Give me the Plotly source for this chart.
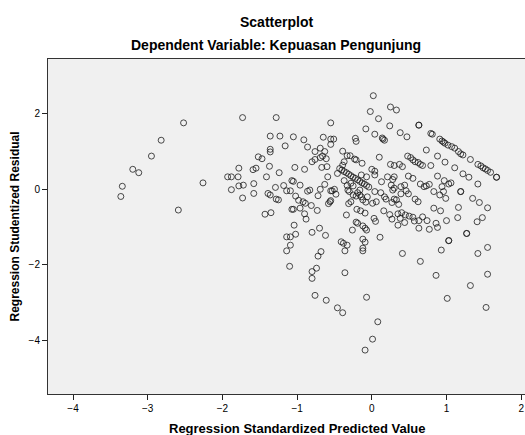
import plotly.graph_objects as go

# Regression Standardized Predicted Value (x) and Studentized Residual (y)
pred = [
 -3.36,-3.34,-3.20,-3.12,-2.95,-2.82,-2.52,-2.59,-2.26,
 -1.93,-1.88,-1.79,-1.88,-1.78,-1.72,-1.73,-1.73,-1.78,-1.59,-1.55,-1.58,-1.58,-1.52,-1.47,
 -1.43,-1.35,-1.41,-1.39,-1.36,-1.37,-1.36,-1.36,-1.36,-1.28,-1.23,-1.05,-1.16,-1.24,-1.29,
 -1.18,-1.14,-1.09,-1.07,-1.05,-1.28,-1.25,-1.03,-1.07,-1.05,-1.04,-1.02,-1.14,-1.09,-1.09,
 -1.14,-1.10,-1.02,-0.98,-0.92,-0.89,-0.81,-0.96,-0.96,-0.90,-0.88,-0.91,-0.86,-0.90,-0.86,
 -0.83,-0.80,-0.76,-0.76,-0.80,-0.70,-0.62,-0.68,-0.72,-0.74,-0.80,-0.80,-0.76,-0.61,-0.46,
 -0.39,-0.36,-0.07,0.08,0.01,-0.09,-0.73,-0.72,-0.69,-0.63,-0.59,-0.55,-0.53,-0.48,-0.50,
 -0.56,-0.58,-0.55,-0.65,-0.55,-0.55,-0.51,-0.55,-0.69,-0.63,-0.66,-0.69,-0.61,-0.60,-0.67,
 0.02,-0.02,0.09,0.25,0.33,0.24,-0.08,0.04,0.14,0.17,0.15,-0.22,-0.21,-0.39,-0.33,-0.29,
 -0.23,-0.21,-0.13,-0.37,-0.39,0.10,0.00,0.04,
 -0.43,-0.40,-0.37,-0.34,-0.31,-0.28,-0.25,-0.22,-0.19,-0.16,-0.13,-0.10,-0.07,-0.04,
 -0.37,-0.33,-0.46,-0.28,-0.25,-0.32,-0.30,-0.25,-0.21,-0.19,-0.16,-0.14,-0.12,-0.08,-0.28,
 -0.31,-0.34,-0.20,-0.15,-0.09,-0.21,-0.19,-0.12,-0.09,-0.07,-0.26,0.03,0.05,-0.41,-0.38,
 -0.33,-0.36,-0.12,-0.09,-0.12,-0.12,0.11,0.41,0.65,0.16,0.24,0.27,0.35,0.38,0.35,0.06,
 0.01,0.12,0.17,0.19,0.28,0.27,0.33,0.36,0.39,0.39,0.04,-0.14,-0.07,0.04,0.13,0.21,0.30,
 0.26,0.28,0.25,0.30,0.37,0.41,0.38,0.47,0.63,0.63,0.79,0.81,
 0.91,0.94,0.96,0.98,1.02,1.07,1.11,1.16,1.19,1.22,1.32,1.42,1.46,1.49,1.52,1.55,1.59,
 1.67,1.67,0.73,0.88,0.98,1.11,1.22,1.30,1.42,0.48,0.52,0.55,0.58,0.62,0.65,0.68,0.79,
 0.49,0.55,0.88,0.97,1.03,1.06,0.65,0.70,0.77,0.44,0.46,0.49,0.30,0.83,0.91,0.96,0.99,
 1.19,1.19,0.58,0.62,0.30,1.35,1.44,1.55,0.83,0.92,1.16,1.15,0.40,0.45,0.50,0.55,0.57,
 0.63,0.68,0.74,0.86,0.88,1.00,0.63,0.77,1.48,1.41,1.27,1.27,1.03,1.03,0.93,1.55,1.42,
 0.86,1.01,1.55,1.32,1.53,0.44,-0.06,-0.16,0.73,0.94,
]
resid = [
 -0.19,0.08,0.53,0.44,0.88,1.30,1.76,-0.55,0.17,
 0.33,0.33,0.33,-0.01,0.09,0.11,-0.23,1.90,0.56,0.52,0.56,0.15,-0.11,0.86,0.81,
 -0.66,-0.62,0.33,-0.11,-0.15,0.61,1.41,1.06,0.99,1.90,1.41,1.39,1.15,0.44,0.05,
 0.10,-0.04,-0.04,0.23,0.21,-0.26,-0.28,0.58,-0.53,-0.53,-0.95,-1.19,-1.26,-1.26,-1.48,
 -1.63,-2.04,-0.18,-0.29,-0.33,-0.37,-0.43,0.11,-0.50,-0.65,-0.79,1.31,1.12,0.53,-0.05,
 -0.02,0.73,0.79,1.00,-1.14,-1.03,-1.22,-1.65,-1.77,-2.09,-2.18,-2.36,-2.81,-2.94,-3.14,
 -3.27,-2.21,-2.86,-3.51,-3.97,-4.26,-0.56,-0.17,0.00,0.13,0.33,-0.04,-0.04,-0.13,0.00,
 -0.33,-0.38,-0.30,1.38,1.76,1.33,1.33,1.19,1.09,1.00,0.88,0.84,0.81,0.60,0.58,
 2.48,2.06,1.87,2.18,2.10,1.68,1.60,1.46,1.36,1.30,1.33,1.35,1.27,1.01,0.89,0.89,
 0.80,0.78,0.69,0.73,0.64,0.85,0.53,0.48,
 0.55,0.51,0.47,0.44,0.40,0.36,0.32,0.29,0.25,0.21,0.17,0.14,0.10,0.06,
 0.23,0.10,0.42,0.16,0.09,-0.02,-0.06,-0.15,-0.18,-0.09,-0.15,-0.20,-0.28,-0.34,-0.33,
 -0.38,-0.68,-0.53,-0.57,-0.63,-0.87,-0.90,-0.97,-1.03,-1.08,-1.08,-0.77,-0.85,-1.39,-1.43,
 -1.48,-1.63,-1.32,-1.40,-1.56,-1.63,-1.27,-1.70,-1.91,-0.57,-0.67,-0.79,-0.95,-0.77,-0.65,-0.33,
 -0.37,-0.09,-0.20,-0.26,-0.02,-0.35,-0.28,-0.40,0.07,-0.12,-0.06,0.38,0.33,0.38,0.20,0.33,0.33,
 0.11,0.26,0.66,0.63,0.66,0.60,1.50,1.39,1.70,1.70,1.48,1.46,
 1.33,1.28,1.25,1.22,1.17,1.13,1.09,1.00,0.94,0.91,0.79,0.66,0.62,0.57,0.54,0.50,0.45,
 0.32,0.32,1.04,0.88,0.72,0.57,0.41,0.32,0.14,0.88,0.84,0.78,0.73,0.71,0.66,0.63,0.63,
 0.35,0.29,0.35,0.23,0.14,0.17,0.14,0.07,0.13,0.11,-0.04,-0.12,0.03,-0.06,-0.15,-0.06,-0.24,
 -0.06,-0.06,-0.26,-0.33,-0.26,-0.24,-0.35,-0.49,-0.50,-0.57,-0.48,-0.75,-0.62,-0.68,-0.71,-0.74,-0.84,
 -0.83,-0.73,-0.83,-0.90,-1.01,-0.83,-1.03,-1.06,-0.75,-0.86,-1.17,-1.17,-1.36,-1.36,-1.61,-1.54,-1.70,
 -2.28,-2.89,-2.25,-2.55,-3.13,-0.88,-0.20,-0.02,0.09,0.07,
]

x_ticks = [-4, -3, -2, -1, 0, 1, 2]
y_ticks = [-4, -2, 0, 2]

FONT = "Liberation Sans, Arial, sans-serif"

fig = go.Figure()
fig.add_trace(go.Scatter(
    x=pred, y=resid, mode="markers",
    marker=dict(symbol="circle-open", size=6,
                color="rgba(25,25,25,0.78)", line=dict(width=1)),
    hoverinfo="x+y", showlegend=False,
))

fig.update_layout(
    width=525, height=435,
    margin=dict(l=48, r=0, t=59, b=41),
    paper_bgcolor="white", plot_bgcolor="#F0F0F0",
    font=dict(family=FONT, size=10, color="black"),
    xaxis=dict(range=[-4.335, 2.051], tickvals=x_ticks, ticks="outside",
               ticklen=5, tickcolor="#222", showgrid=False, zeroline=False,
               showline=True, linecolor="#333", linewidth=1, mirror=True,
               automargin=False, tickfont=dict(size=10)),
    yaxis=dict(range=[-5.423, 3.452], tickvals=y_ticks, ticks="outside",
               ticklen=5, tickcolor="#222", showgrid=False, zeroline=False,
               showline=True, linecolor="#333", linewidth=1, mirror=False,
               automargin=False, tickfont=dict(size=10)),
    annotations=[
        dict(text="<b>Scatterplot</b>", xref="paper", yref="paper",
             x=0.478, y=1.110, xanchor="center", yanchor="middle",
             showarrow=False, font=dict(size=14)),
        dict(text="<b>Dependent Variable: Kepuasan Pengunjung</b>", xref="paper",
             yref="paper", x=0.478, y=1.042, xanchor="center", yanchor="middle",
             showarrow=False, font=dict(size=14)),
        dict(text="<b>Regression Standardized Predicted Value</b>", xref="paper",
             yref="paper", x=0.523, y=-0.1015, xanchor="center", yanchor="middle",
             showarrow=False, font=dict(size=13)),
        dict(text="<b>Regression Studentized Residual</b>", xref="paper",
             yref="paper", x=-0.0692, y=0.5, xanchor="center", yanchor="middle",
             textangle=-90, showarrow=False, font=dict(size=12)),
    ],
)

fig.write_html(
    "out.html",
    config={"displayModeBar": False},
    post_script="document.body.style.margin='0';document.body.style.overflow='hidden';",
)
